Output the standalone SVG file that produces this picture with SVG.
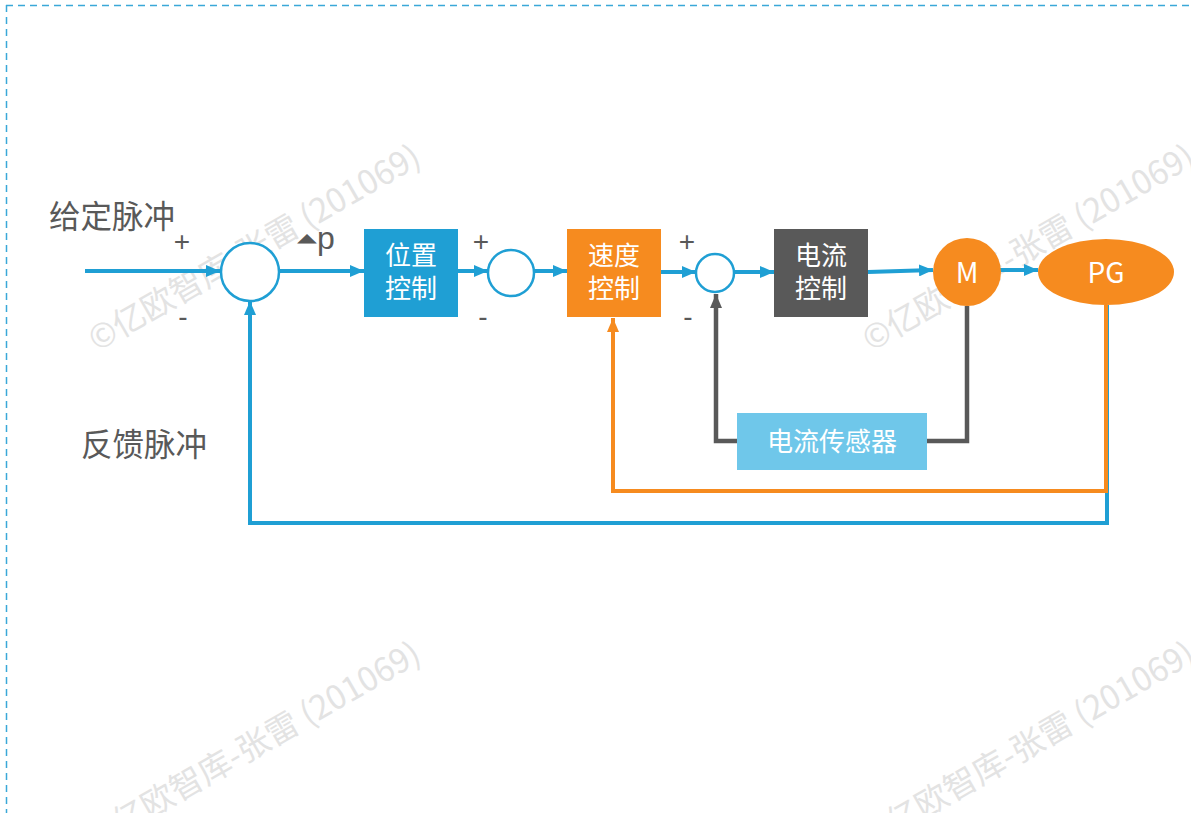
<svg xmlns="http://www.w3.org/2000/svg" width="1191" height="813" viewBox="0 0 1191 813">
<defs>
<style>
.lbl{font-family:"Noto Sans CJK SC","Liberation Sans",sans-serif;fill:#595959}
.wt{font-family:"Noto Sans CJK SC","Liberation Sans",sans-serif;fill:#ffffff;text-anchor:middle}
.wm{font-family:"Noto Sans CJK SC","Liberation Sans",sans-serif;fill:#e3e3e3;font-size:33px}
.sign{font-family:"Liberation Sans",sans-serif;fill:#595959;font-size:28px;text-anchor:middle}
.blue{stroke:#1f9fd4;stroke-width:4;fill:none}
.orange{stroke:#f68b1f;stroke-width:4;fill:none}
.gray{stroke:#595959;stroke-width:4.5;fill:none}
.sum{fill:#ffffff;stroke:#1f9fd4;stroke-width:2.5}
</style>
<marker id="ab" viewBox="0 0 14 12" refX="14" refY="6" markerWidth="14" markerHeight="12" markerUnits="userSpaceOnUse" orient="auto"><path d="M0,0 L14,6 L0,12 Z" fill="#1f9fd4"/></marker>
<marker id="ao" viewBox="0 0 14 12" refX="14" refY="6" markerWidth="14" markerHeight="12" markerUnits="userSpaceOnUse" orient="auto"><path d="M0,0 L14,6 L0,12 Z" fill="#f68b1f"/></marker>
<marker id="ag" viewBox="0 0 14 12" refX="14" refY="6" markerWidth="14" markerHeight="12" markerUnits="userSpaceOnUse" orient="auto"><path d="M0,0 L14,6 L0,12 Z" fill="#595959"/></marker>
</defs>
<rect width="1191" height="813" fill="#ffffff"/>
<g id="border" fill="none" stroke="#3aa8d8" stroke-width="1.5" stroke-dasharray="7 5">
<line x1="6" y1="5.5" x2="1191" y2="5.5"/>
<line x1="6.5" y1="5" x2="6.5" y2="813"/>
</g>
<g id="watermarks">
<text class="wm" transform="translate(97,352) rotate(-30)">©亿欧智库-张雷 (201069)</text>
<text class="wm" transform="translate(871,352) rotate(-30)">©亿欧智库-张雷 (201069)</text>
<text class="wm" transform="translate(97,849) rotate(-30)">©亿欧智库-张雷 (201069)</text>
<text class="wm" transform="translate(871,849) rotate(-30)">©亿欧智库-张雷 (201069)</text>
</g>
<g id="connectors">
<line class="blue" x1="85" y1="271" x2="220" y2="271" marker-end="url(#ab)"/>
<line class="blue" x1="279" y1="271" x2="364" y2="271" marker-end="url(#ab)"/>
<line class="blue" x1="458" y1="271" x2="488" y2="271" marker-end="url(#ab)"/>
<line class="blue" x1="534" y1="271" x2="567" y2="271" marker-end="url(#ab)"/>
<line class="blue" x1="661" y1="272" x2="696" y2="272" marker-end="url(#ab)"/>
<line class="blue" x1="734" y1="272" x2="774" y2="272" marker-end="url(#ab)"/>
<line class="blue" x1="868" y1="272" x2="933" y2="270" marker-end="url(#ab)"/>
<line class="blue" x1="1000" y1="270" x2="1038" y2="270" marker-end="url(#ab)"/>
<polyline class="gray" points="967,306 967,441 927,441"/>
<polyline class="gray" points="737,441 716,441 716,294" marker-end="url(#ag)"/>
<polyline class="blue" points="1107,305 1107,523 250,523 250,301" marker-end="url(#ab)"/>
<polyline class="orange" points="1106,305 1106,491 613,491 613,318" marker-end="url(#ao)"/>
</g>
<g id="sum1"><circle class="sum" cx="250" cy="272" r="29"/></g>
<g id="sum2"><circle class="sum" cx="511" cy="273" r="23"/></g>
<g id="sum3"><circle class="sum" cx="715" cy="273" r="19"/></g>
<g id="pos-ctrl">
<rect x="364" y="229" width="94" height="88" fill="#1f9fd4"/>
<text class="wt" font-size="26" x="411" y="265">位置</text>
<text class="wt" font-size="26" x="411" y="298">控制</text>
</g>
<g id="speed-ctrl">
<rect x="567" y="229" width="94" height="88" fill="#f68b1f"/>
<text class="wt" font-size="26" x="614" y="265">速度</text>
<text class="wt" font-size="26" x="614" y="298">控制</text>
</g>
<g id="current-ctrl">
<rect x="774" y="229" width="94" height="88" fill="#595959"/>
<text class="wt" font-size="26" x="821" y="265">电流</text>
<text class="wt" font-size="26" x="821" y="298">控制</text>
</g>
<g id="motor">
<circle cx="967" cy="272" r="34" fill="#f68b1f"/>
<text class="wt" font-size="28" x="967" y="283">M</text>
</g>
<g id="pg">
<ellipse cx="1106" cy="272" rx="68" ry="33" fill="#f68b1f"/>
<text class="wt" font-size="28" x="1106" y="283">PG</text>
</g>
<g id="sensor">
<rect x="737" y="413" width="190" height="57" fill="#6fc7ea"/>
<text class="wt" font-size="26" x="832" y="451">电流传感器</text>
</g>
<g id="labels">
<text class="lbl" font-size="31.5" x="49" y="228">给定脉冲</text>
<text class="lbl" font-size="31.5" x="81" y="456">反馈脉冲</text>
<text class="sign" x="182" y="251">+</text>
<text class="sign" x="183" y="326">-</text>
<text class="sign" x="481" y="251">+</text>
<text class="sign" x="483" y="326">-</text>
<text class="sign" x="687" y="251">+</text>
<text class="sign" x="688" y="326">-</text>
<text class="lbl" x="297" y="242" font-size="20" transform="translate(297,242) scale(1.3,0.62) translate(-297,-242)" style="font-family:'DejaVu Sans',sans-serif">▲</text>
<text class="lbl" x="317" y="249" font-size="32" style="font-family:'Liberation Sans',sans-serif">p</text>
</g>
</svg>
